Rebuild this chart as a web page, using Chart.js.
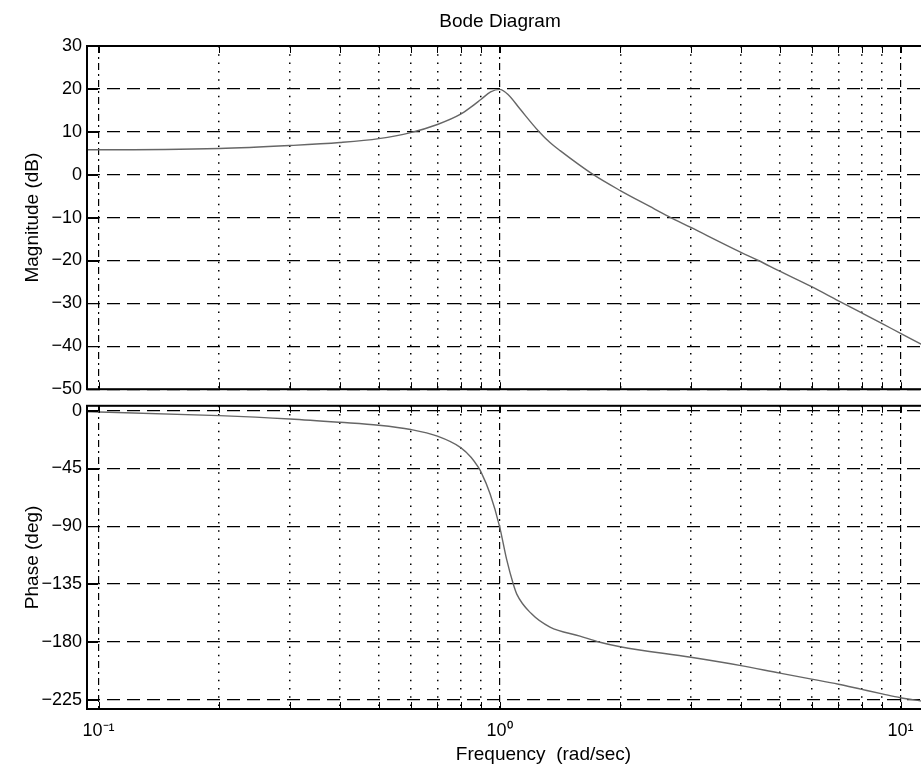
<!DOCTYPE html>
<html>
<head>
<meta charset="utf-8">
<title>Bode Diagram</title>
<script src="https://cdn.jsdelivr.net/npm/chart.js@4.4.1/dist/chart.umd.min.js"></script>
<style>
  html, body { margin: 0; padding: 0; background: #fff; overflow: hidden; }
  #wrap { position: relative; width: 921px; height: 766px; overflow: hidden; }
  #magChart { position: absolute; left: 0; top: 0; }
  #phaseChart { position: absolute; left: 0; top: 390px; }
</style>
</head>
<body>
<div id="wrap">
  <canvas id="magChart" width="1000" height="405"></canvas>
  <canvas id="phaseChart" width="1000" height="376"></canvas>
</div>
<script>
// values
const magFreq = [0.0936, 0.1, 0.2, 0.3, 0.4, 0.5, 0.6, 0.7, 0.8, 0.85, 0.9, 0.95, 1.0, 1.05, 1.125, 1.25, 1.336, 1.416, 1.714, 2, 2.37, 2.637, 3, 4, 4.42, 5, 6, 7, 8, 9, 10, 11.25, 12];
const magDb = [5.8, 5.8, 6.1, 6.8, 7.5, 8.4, 9.8, 11.7, 14.1, 15.8, 17.6, 19.3, 19.9, 18.7, 15.3, 10.2, 7.5, 5.6, 0, -3.7, -7.4, -9.7, -12.3, -18.1, -20, -22.5, -26.1, -29.4, -32.2, -34.7, -37, -39.5, -40.8];

const phaseFreq = [0.0936, 0.1, 0.2, 0.3, 0.4, 0.5, 0.6, 0.7, 0.8, 0.85, 0.885, 0.9, 0.947, 1.0, 1.042, 1.082, 1.104, 1.2, 1.336, 1.587, 1.78, 2, 3, 4, 5, 6, 7, 8, 9, 10, 11.2, 12];
const phaseDeg = [-0.8, -1.0, -3.8, -6.4, -9, -11.3, -14.6, -19.8, -28.7, -36.4, -44, -48, -64.6, -90, -116, -135, -142.8, -158, -168.5, -175.5, -180.3, -183.8, -192.0, -198.5, -204.4, -209.0, -213, -217, -220.5, -223.5, -226, -227.5];

const magTicks = [30, 20, 10, 0, -10, -20, -30, -40, -50];
const phaseTicks = [0, -45, -90, -135, -180, -225];
const decades = [0.1, 1, 10];
const freqTickLabels = ["10\u207B\u00B9", "10\u2070", "10\u00B9"];

const FONT = "'Liberation Sans', Arial, Helvetica, sans-serif";
const X_MIN = 0.0936;
const X_MAX = 17.7;

const minorTicks = decades
  .flatMap(d => [1, 2, 3, 4, 5, 6, 7, 8, 9].map(k => +(k * d).toPrecision(3)))
  .filter(v => v >= X_MIN && v <= X_MAX);

const isDecade = v => decades.some(d => Math.abs(v / d - 1) < 1e-9);
const minus = v => (v < 0 ? "\u2212" + Math.abs(v) : String(v));

// inward tick marks + black box, like the matlab axes
const frame = {
  id: "frame",
  afterDatasetsDraw(chart) {
    const { ctx, chartArea: a, scales } = chart;
    ctx.save();
    ctx.strokeStyle = "#000";
    ctx.lineWidth = 1;
    ctx.beginPath();
    minorTicks.forEach(v => {
      const px = Math.round(scales.x.getPixelForValue(v)) + 0.5;
      ctx.moveTo(px, a.top); ctx.lineTo(px, a.top + 7);
      ctx.moveTo(px, a.bottom); ctx.lineTo(px, a.bottom - 7);
    });
    scales.y.ticks.forEach(t => {
      const py = Math.round(scales.y.getPixelForValue(t.value)) + 0.5;
      ctx.moveTo(a.left, py); ctx.lineTo(a.left + 11, py);
    });
    ctx.stroke();
    ctx.lineWidth = 2;
    ctx.strokeRect(a.left, a.top, a.right - a.left, a.bottom - a.top);
    ctx.restore();
  }
};

function makeOptions(cfg) {
  return {
    responsive: false,
    animation: false,
    events: [],
    layout: { padding: cfg.padding },
    plugins: {
      legend: { display: false },
      tooltip: { enabled: false },
      title: cfg.title
        ? { display: true, text: cfg.title, color: "#000", font: { family: FONT, size: 19, weight: "normal" }, padding: { top: 10, bottom: 13.2 } }
        : { display: false }
    },
    scales: {
      x: {
        type: "logarithmic",
        position: "bottom",
        min: X_MIN,
        max: X_MAX,
        afterBuildTicks: s => { s.ticks = minorTicks.map(v => ({ value: v })); },
        afterFit: s => { s.height = cfg.showX ? 57 : 0; },
        border: { display: false, dash: [1.5, 6.8] },
        grid: {
          drawTicks: false,
          lineWidth: 1.5,
          color: c => (c.tick && isDecade(c.tick.value) ? "rgba(0,0,0,0)" : "#000")
        },
        ticks: {
          display: cfg.showX,
          autoSkip: false,
          maxRotation: 0,
          padding: 11,
          color: "#000",
          font: { family: FONT, size: 18 },
          callback: v => {
            const i = decades.findIndex(d => Math.abs(v / d - 1) < 1e-9);
            return i >= 0 ? freqTickLabels[i] : "";
          }
        },
        title: {
          display: cfg.showX,
          text: "Frequency  (rad/sec)",
          color: "#000",
          font: { family: FONT, size: 19 },
          padding: { top: 0, bottom: 0 }
        }
      },
      xd: {
        type: "logarithmic",
        position: "top",
        min: X_MIN,
        max: X_MAX,
        afterBuildTicks: s => { s.ticks = decades.map(v => ({ value: v })); },
        afterFit: s => { s.height = 0; },
        border: { display: false, dash: [7, 4, 2, 4] },
        grid: { drawTicks: false, lineWidth: 1.2, color: "#000" },
        ticks: { display: false }
      },
      y: {
        min: cfg.yMin,
        max: cfg.yMax,
        afterBuildTicks: s => { s.ticks = cfg.yTicks.map(v => ({ value: v })); },
        afterFit: s => { s.width = 87; },
        border: { display: false, dash: [13, 7] },
        grid: { drawTicks: false, lineWidth: 1.2, color: "#000" },
        ticks: {
          autoSkip: false,
          padding: 5,
          color: "#000",
          font: { family: FONT, size: 18 },
          callback: v => minus(v)
        },
        title: {
          display: true,
          text: cfg.yTitle,
          color: "#000",
          font: { family: FONT, size: 19 },
          padding: { top: 21, bottom: 0 }
        }
      }
    }
  };
}

function curve(freq, vals) {
  return {
    data: freq.map((f, i) => ({ x: f, y: vals[i] })),
    borderColor: "#666",
    borderWidth: 1.4,
    pointRadius: 0,
    fill: false,
    cubicInterpolationMode: "monotone",
    xAxisID: "x",
    yAxisID: "y"
  };
}

new Chart(document.getElementById("magChart"), {
  type: "line",
  data: { datasets: [curve(magFreq, magDb)] },
  options: makeOptions({
    title: "Bode Diagram",
    yTitle: "Magnitude (dB)",
    yMin: -50, yMax: 30, yTicks: magTicks,
    showX: false,
    padding: { left: 0, right: 0, top: 0, bottom: 13 }
  }),
  plugins: [frame]
});

new Chart(document.getElementById("phaseChart"), {
  type: "line",
  data: { datasets: [curve(phaseFreq, phaseDeg)] },
  options: makeOptions({
    title: null,
    yTitle: "Phase (deg)",
    yMin: -232.3, yMax: 3.85, yTicks: phaseTicks,
    showX: true,
    padding: { left: 0, right: 0, top: 12, bottom: 0 }
  }),
  plugins: [frame]
});
</script>
</body>
</html>
